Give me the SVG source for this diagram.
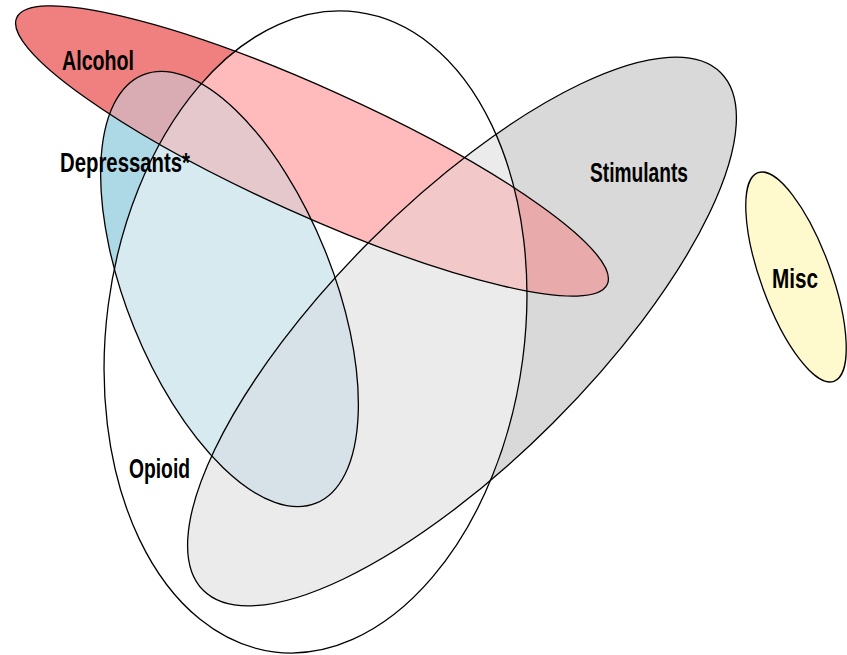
<svg xmlns="http://www.w3.org/2000/svg" xmlns:xlink="http://www.w3.org/1999/xlink" width="847" height="655" viewBox="0 0 847 655">
<style>
.lbl{font-family:"Liberation Sans",Arial,sans-serif;font-weight:bold;font-size:27px;fill:#000}
.edge{fill:none;stroke:#000;stroke-width:1.3}
</style>
<defs>
<ellipse id="eA" cx="312" cy="151" rx="324" ry="63" transform="rotate(24.3 312 151)"/>
<ellipse id="eO" cx="315.5" cy="332" rx="209" ry="322.6" transform="rotate(7.5 315.5 332)"/>
<ellipse id="eD" cx="229.5" cy="289" rx="231" ry="103" transform="rotate(68 229.5 289)"/>
<ellipse id="eS" cx="462" cy="331.5" rx="366" ry="129" transform="rotate(-45 462 331.5)"/>
<ellipse id="eM" cx="796" cy="277" rx="111" ry="35" transform="rotate(70 796 277)"/>
<clipPath id="cO"><use href="#eO"/></clipPath>
<clipPath id="cD"><use href="#eD"/></clipPath>
<clipPath id="cS"><use href="#eS"/></clipPath>
</defs>
<rect width="847" height="655" fill="#fff"/>
<g id="fills">
<use href="#eS" fill="#D9D9D9"/>
<use href="#eD" fill="#ADD8E6"/>
<use href="#eA" fill="#F08080"/>
<g clip-path="url(#cD)"><use href="#eA" fill="#D8ACB2"/></g>
<g clip-path="url(#cS)"><use href="#eA" fill="#E8AAAA"/></g>
<use href="#eM" fill="#FFFACD"/>
<g clip-path="url(#cO)">
<rect width="847" height="655" fill="#fff"/>
<use href="#eS" fill="#EBEBEB"/>
<use href="#eD" fill="#D6EAF0"/>
<g clip-path="url(#cS)"><use href="#eD" fill="#D6E2E8"/></g>
<use href="#eA" fill="#FFBBBB"/>
<g clip-path="url(#cD)"><use href="#eA" fill="#E4C8CC"/></g>
<g clip-path="url(#cS)"><use href="#eA" fill="#F2C8C8"/></g>
</g>
</g>
<g id="node-stimulants"><use href="#eS" class="edge"/><text class="lbl" x="590" y="182" textLength="98" lengthAdjust="spacingAndGlyphs">Stimulants</text></g>
<g id="node-depressants"><use href="#eD" class="edge"/><text class="lbl" x="60" y="172" textLength="130" lengthAdjust="spacingAndGlyphs">Depressants*</text></g>
<g id="node-alcohol"><use href="#eA" class="edge"/><text class="lbl" x="62" y="69.5" textLength="72" lengthAdjust="spacingAndGlyphs">Alcohol</text></g>
<g id="node-opioid"><use href="#eO" class="edge"/><text class="lbl" x="129" y="478" textLength="61" lengthAdjust="spacingAndGlyphs">Opioid</text></g>
<g id="node-misc"><use href="#eM" class="edge"/><text class="lbl" x="772" y="288" textLength="46" lengthAdjust="spacingAndGlyphs">Misc</text></g>
<g id="connectors"/>
</svg>
